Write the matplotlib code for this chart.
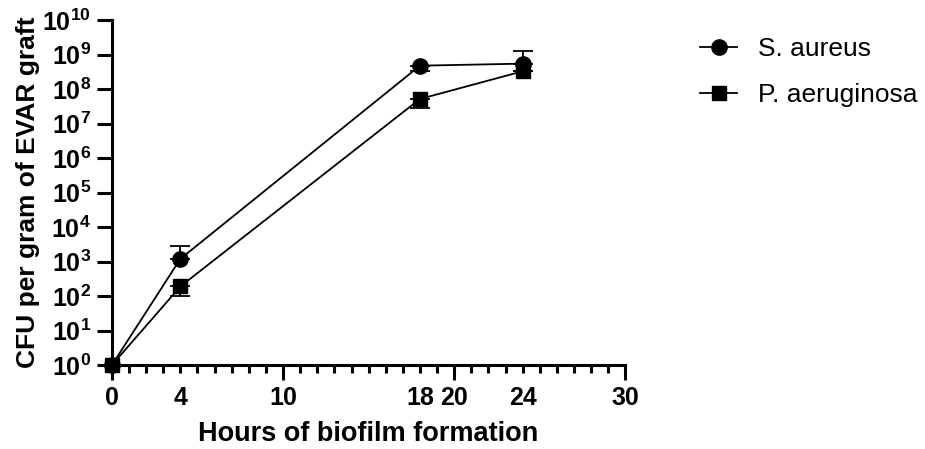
import math
import matplotlib.pyplot as plt
from matplotlib.lines import Line2D
from matplotlib.ticker import FixedLocator, FuncFormatter, NullLocator

plt.rcParams["font.family"] = ["Liberation Sans", "DejaVu Sans"]
plt.rcParams["mathtext.fontset"] = "custom"
plt.rcParams["mathtext.rm"] = "Liberation Sans:bold"
plt.rcParams["mathtext.bf"] = "Liberation Sans:bold"

# --- DATA ---
hours = [0, 4, 18, 24]
aureus = [1, 1.2e3, 4.8e8, 5.5e8]
aureus_lo = [0, 0, 1.4e8, 0]
aureus_hi = [0, 1.6e3, 0, 7.0e8]
aerug = [1, 1.9e2, 5.2e7, 3.3e8]
aerug_lo = [0, 0.9e2, 2.4e7, 0]
aerug_hi = [0, 0, 0, 0]

labels = ["S. aureus", "P. aeruginosa"]

# --- PLOT ---
fig = plt.figure(figsize=(9.25, 4.49), dpi=100)
ax = fig.add_axes([0.121, 0.187, 0.555, 0.768])

ax.errorbar(hours, aureus, yerr=[aureus_lo, aureus_hi], color="black",
            marker="o", markersize=11, linewidth=1.3, elinewidth=1.3,
            capsize=7, capthick=1.3, clip_on=False, zorder=3)
ax.errorbar(hours, aerug, yerr=[aerug_lo, aerug_hi], color="black",
            marker="s", markersize=10, linewidth=1.3, elinewidth=1.3,
            capsize=7, capthick=1.3, clip_on=False, zorder=3)

ax.set_yscale("log")
ax.set_ylim(1, 1e10)
ax.set_xlim(0, 30)

ax.yaxis.set_major_locator(FixedLocator([10.0 ** k for k in range(11)]))
ax.yaxis.set_minor_locator(NullLocator())
ax.yaxis.set_major_formatter(FuncFormatter(lambda v, p: r"$\mathbf{10^{%d}}$" % round(math.log10(v))))

ax.xaxis.set_major_locator(FixedLocator([0, 10, 20, 30]))
ax.xaxis.set_minor_locator(FixedLocator([k for k in range(31) if k % 10 != 0]))
ax.xaxis.set_minor_formatter(FuncFormatter(lambda v, p: str(int(v)) if int(v) in (4, 18, 24) else ""))

for s in ["top", "right"]:
    ax.spines[s].set_visible(False)
for s in ["left", "bottom"]:
    ax.spines[s].set_linewidth(2.2)

ax.tick_params(axis="both", which="major", width=2.2, length=11, labelsize=18, pad=4)
ax.tick_params(axis="x", which="minor", width=2.2, length=6, labelsize=18, pad=9)
for t in ax.get_xticklabels(which="both"):
    t.set_fontweight("bold")

ax.set_xlabel("Hours of biofilm formation", fontsize=19.5, fontweight="bold", labelpad=8)
ax.set_ylabel("CFU per gram of EVAR graft", fontsize=19, fontweight="bold", labelpad=2)

handles = [
    Line2D([], [], color="black", marker="o", markersize=11, linewidth=1.3),
    Line2D([], [], color="black", marker="s", markersize=10, linewidth=1.3),
]
ax.legend(handles, labels, loc="upper left", bbox_to_anchor=(1.10, 1.02),
          frameon=False, fontsize=19, handlelength=1.4, labelspacing=0.85,
          handletextpad=0.8)

fig.savefig("out.png", dpi=100)
